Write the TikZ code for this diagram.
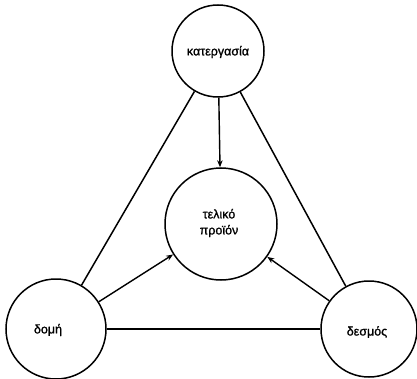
\documentclass[tikz,border=0pt]{standalone}
\usepackage{fontspec}
\setmainfont{Liberation Sans}
\newfontfamily\labelfont[FakeBold=1.2]{Liberation Sans}
\usetikzlibrary{arrows.meta}
\begin{document}
\begin{tikzpicture}[x=1pt,y=1pt,
  ring/.style={draw,circle,line width=1.5pt,inner sep=0pt},
  lbl/.style={font=\labelfont\fontsize{12.5}{16}\selectfont,align=center,inner sep=0pt},
  link/.style={line width=1.5pt},
  flow/.style={line width=1.4pt,-{Stealth[length=7pt,width=5.5pt]}}]
  \useasboundingbox (0,0) rectangle (417,378);
  % circles
  \node[ring,minimum size=92pt]  (kat) at (218,327) {};
  \node[ring,minimum size=112pt] (tel) at (221,154) {};
  \node[ring,minimum size=100pt] (dom) at (56,49) {};
  \node[ring,minimum size=96pt]  (des) at (369,49) {};
  % labels
  \node[lbl] (katL) at (218,326) {κατεργασία};
  \node[lbl] (telL) at (219,155) {τελικό\\προϊόν};
  \node[lbl] (domL) at (48,48) {δομή};
  \node[lbl] (desL) at (367,46) {δεσμός};
  % connectors
  \draw[link] (kat) -- (dom);
  \draw[link] (kat) -- (des);
  \draw[link] (dom) -- (des);
  \draw[flow] (kat) -- (tel);
  \draw[flow] (dom) -- (tel);
  \draw[flow] (des) -- (tel);
\end{tikzpicture}
\end{document}
